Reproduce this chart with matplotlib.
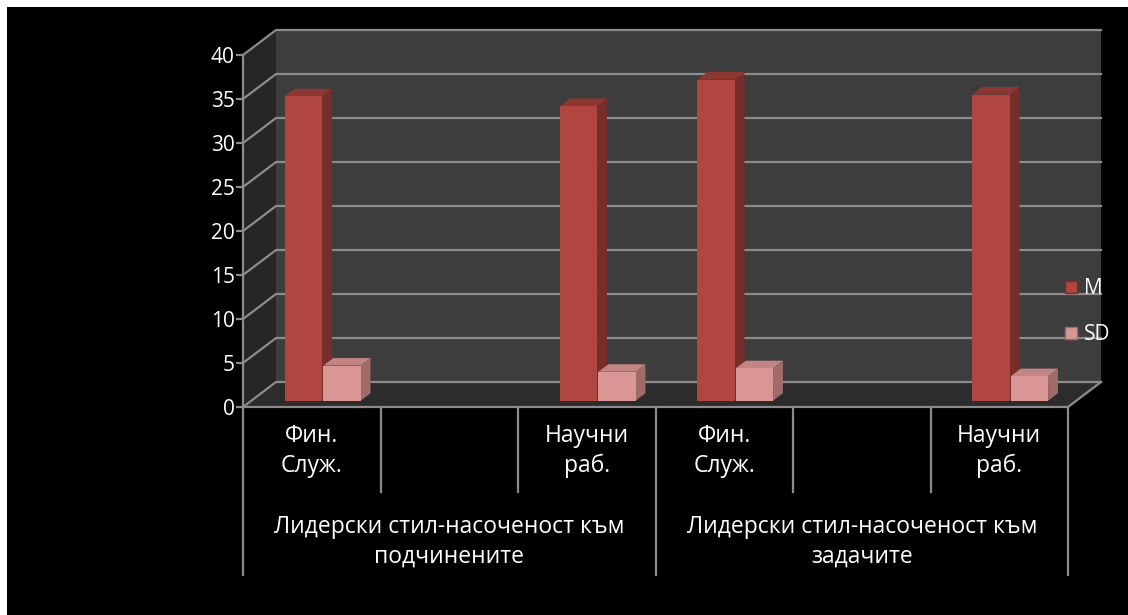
#!/usr/bin/env python3
"""
3D-style column chart (Excel look): M and SD per group of employees
"""

import numpy as np
import matplotlib
matplotlib.use('Agg')
import matplotlib.pyplot as plt
from matplotlib.patches import Polygon, Rectangle
from matplotlib.lines import Line2D

# Data
categories = ['Фин.\nСлуж.', '', 'Научни\nраб.', 'Фин.\nСлуж.', '', 'Научни\nраб.']
groups = ['Лидерски стил-насоченост към\nподчинените',
          'Лидерски стил-насоченост към\nзадачите']
group_size = 3
series_names = ['M', 'SD']
m_values = [34.6, np.nan, 33.5, 36.5, np.nan, 34.8]
sd_values = [4.0, np.nan, 3.3, 3.7, np.nan, 2.8]
y_ticks = [0, 5, 10, 15, 20, 25, 30, 35, 40]

# Style
plt.rcParams['font.family'] = ['Open Sans', 'DejaVu Sans']
WALL = '#3d3d3d'
SIDE_WALL = '#262626'
FLOOR = '#2c2c2c'
GRID = '#8c8c8c'
TEXT = 'white'
LABEL_SIZE = 16.5
# front, top, side colours of each series
COLORS = {
    'M': ('#b0463f', '#8e3631', '#772d29'),
    'SD': ('#d99694', '#c18583', '#9f6c6a'),
}

# depth offset of the back wall, in data units
DX = 0.24
DY = 2.84
D_FRONT = 0.25
D_BACK = 0.55
BAR_W = 0.27
BAR_X0 = {'M': 0.245, 'SD': 0.525}


def proj(x, v, d):
    """Oblique projection: shift a point back by depth fraction d"""
    return (x + d * DX, v + d * DY)


def bar_faces(x0, v, name, ax):
    front, top, side = COLORS[name]
    x1 = x0 + BAR_W
    side_pts = [proj(x1, 0, D_FRONT), proj(x1, 0, D_BACK),
                proj(x1, v, D_BACK), proj(x1, v, D_FRONT)]
    top_pts = [proj(x0, v, D_FRONT), proj(x1, v, D_FRONT),
               proj(x1, v, D_BACK), proj(x0, v, D_BACK)]
    front_pts = [proj(x0, 0, D_FRONT), proj(x1, 0, D_FRONT),
                 proj(x1, v, D_FRONT), proj(x0, v, D_FRONT)]
    for pts, c in [(side_pts, side), (top_pts, top), (front_pts, front)]:
        ax.add_patch(Polygon(pts, closed=True, facecolor=c, edgecolor='none',
                             clip_on=False, zorder=5))


fig = plt.figure(figsize=(11.28, 6.15), dpi=100)
fig.patch.set_facecolor('white')
fig.add_artist(Rectangle((7 / 1128, 0), 1, 1 - 7 / 615, transform=fig.transFigure,
                         facecolor='black', edgecolor='none', zorder=-10))

ax = fig.add_axes([243 / 1128, 208 / 615, 825 / 1128, 352 / 615])
ax.set_facecolor('none')
n = len(categories)
ymax = y_ticks[-1]
ax.set_xlim(0, n)
ax.set_ylim(0, ymax)

# Walls and floor
back = [proj(0, 0, 1), proj(n, 0, 1), proj(n, ymax, 1), proj(0, ymax, 1)]
side = [proj(0, 0, 0), proj(0, 0, 1), proj(0, ymax, 1), proj(0, ymax, 0)]
floor = [proj(0, 0, 0), proj(n, 0, 0), proj(n, 0, 1), proj(0, 0, 1)]
ax.add_patch(Polygon(back, facecolor=WALL, edgecolor='none', clip_on=False, zorder=1))
ax.add_patch(Polygon(side, facecolor=SIDE_WALL, edgecolor='none', clip_on=False, zorder=1))
ax.add_patch(Polygon(floor, facecolor=FLOOR, edgecolor='none', clip_on=False, zorder=2))

# Gridlines on back and side walls
for v in y_ticks:
    a, b = proj(0, v, 0), proj(0, v, 1)
    c = proj(n, v, 1)
    ax.plot([a[0], b[0], c[0]], [a[1], b[1], c[1]], color=GRID, lw=1.6,
            clip_on=False, zorder=3)
# floor right edge
a, b = proj(n, 0, 0), proj(n, 0, 1)
ax.plot([a[0], b[0]], [a[1], b[1]], color=GRID, lw=1.6, clip_on=False, zorder=3)

# Bars
for i in range(n):
    for name, vals in zip(series_names, [m_values, sd_values]):
        v = vals[i]
        if np.isnan(v):
            continue
        bar_faces(i + BAR_X0[name], v, name, ax)

# Axes styling
for s in ['top', 'right']:
    ax.spines[s].set_visible(False)
for s in ['left', 'bottom']:
    ax.spines[s].set_color(GRID)
    ax.spines[s].set_linewidth(1.6)
    ax.spines[s].set_zorder(6)
ax.set_yticks(y_ticks)
ax.tick_params(axis='y', colors=GRID, labelcolor=TEXT, length=5, width=1.6,
               pad=1, labelsize=15)
ax.set_xticks([])

# Category table below the floor
inner_low = -9.7
outer_low = -19.1
for k in range(n + 1):
    low = outer_low if k % group_size == 0 else inner_low
    ax.plot([k, k], [0, low], color=GRID, lw=1.6, clip_on=False, zorder=3)
for i, lab in enumerate(categories):
    ax.text(i + 0.5, -5.0, lab, color=TEXT, fontsize=LABEL_SIZE, ha='center',
            va='center', linespacing=1.3)
for g, lab in enumerate(groups):
    ax.text(g * group_size + group_size / 2, -15.3, lab, color=TEXT,
            fontsize=LABEL_SIZE, ha='center', va='center', linespacing=1.3)

# Legend
handles = [Line2D([], [], ls='none', marker='s', markersize=9,
                  markerfacecolor=COLORS[nm][0], markeredgecolor=COLORS[nm][2])
           for nm in series_names]
leg = ax.legend(handles, series_names, loc='center left',
                bbox_to_anchor=(0.995, 0.27), frameon=False, fontsize=15,
                labelspacing=1.2, handlelength=0.7, handletextpad=0.25,
                borderpad=0, borderaxespad=0)
for t in leg.get_texts():
    t.set_color(TEXT)

fig.savefig('out.png', dpi=100, facecolor=fig.get_facecolor())
